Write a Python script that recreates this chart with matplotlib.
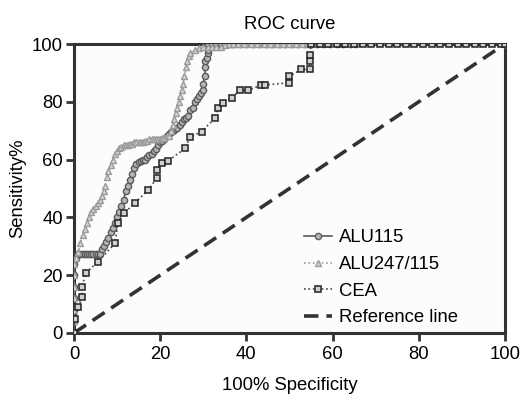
import matplotlib
matplotlib.use("Agg")
import matplotlib.pyplot as plt
import numpy as np

plt.rcParams['font.family'] = ['Liberation Sans', 'DejaVu Sans']

# ALU115 (100 - specificity, sensitivity)
alu115_x = [0, 0, 0, 0, 0, 0, 0, 0.5, 1, 1.5, 2, 2.5, 3, 3.5, 4, 4.5, 5, 5.5, 6, 6.5, 7, 7.5, 8, 8.5,
            9, 9.5, 10, 10.5, 11, 11.5, 12, 12.5, 13, 13.5, 14, 14.5, 15, 15.5, 16, 16.5, 17, 17.5,
            18, 18.5, 19, 19.5, 20, 20.5, 21, 21.5, 22, 22.5, 23, 23.5, 24, 24.5, 25, 25.5, 26, 26.5,
            27, 27.5, 28, 28.5, 29, 29.5, 30, 30, 30.3, 30.5, 30.5, 30.8, 31, 31, 31, 32, 33, 34,
            35, 36, 37, 38.5, 40, 41.5, 43, 44.5, 46, 47.5, 49, 50.5, 52, 53.5, 55, 56.5, 58, 59.5,
            61, 62.5, 64, 65.5, 100]
alu115_y = [0, 4, 8, 12, 16, 20, 24, 26, 27.5, 27.5, 27.5, 27.5, 27.5, 27.5, 27.5, 27.5, 27.5, 27.5,
            27.5, 29, 30, 31.5, 33, 35, 36.5, 38, 40, 42, 44, 46, 49, 51, 53, 55, 57, 58.5, 59, 59.5,
            60, 60, 61, 61.5, 62, 63, 63.5, 65, 66, 66.5, 67, 68, 69, 69.5, 70, 70.5, 71, 72, 73, 74,
            74.5, 75, 77, 78, 80, 81, 82, 83, 84, 86, 89, 92, 94, 95, 97, 98, 100, 100, 100, 100, 100,
            100, 100, 100, 100, 100, 100, 100, 100, 100, 100, 100, 100, 100, 100, 100, 100, 100, 100,
            100, 100, 100, 100]

# ALU247/115
alu247_x = [0, 0, 0, 0, 0, 0, 0, 0.5, 1, 1.5, 2, 2.5, 3, 3.5, 4, 4.5, 5, 5.5, 6, 6.5, 7, 7.3, 7.6,
            8, 8.5, 9, 9.5, 10, 10.5, 11, 11.5, 12, 12.5, 13, 13.5, 14, 14.5, 15, 15.5, 16, 16.5, 17,
            17.5, 18, 18.5, 19, 19.5, 20, 20.5, 21, 21.5, 22, 22.5, 23, 23.3, 23.6, 24, 24.3, 24.6,
            25, 25.3, 25.6, 26, 26.3, 26.6, 27, 28, 29, 30, 31, 32, 33, 34, 35, 36, 37, 38, 39.5, 41,
            42.5, 44, 45.5, 47, 48.5, 50, 51.5, 53, 54.5, 55, 100]
alu247_y = [0, 4, 8, 12, 16, 20, 24, 26, 28, 31, 34, 36, 38, 40, 42, 43, 44, 45, 46, 47.5, 49, 51,
            54, 56, 58, 60, 62, 63, 64, 64.5, 65, 65, 65, 65.5, 65.5, 66, 66, 66, 66, 66, 66.5, 66.5,
            67, 67, 67, 67, 67, 67, 67.5, 67.5, 68, 68, 70, 72, 74, 76, 78, 80, 82, 84, 86, 89, 92,
            94, 96, 97, 98, 98.5, 99, 99, 99, 99, 99, 99.5, 100, 100, 100, 100, 100, 100, 100, 100,
            100, 100, 100, 100, 100, 100, 100, 100]

# CEA
cea_x = [0, 0.2, 1, 1.9, 1.9, 2.7, 5.6, 9.5, 10.2, 11.7, 14.2, 17.2, 19.2, 19.2, 20.4, 21.9, 25.8,
         26.9, 29.6, 32.7, 33.5, 34.6, 36.6, 38.5, 40.4, 43.5, 44.3, 50, 50, 52.7, 54.8, 54.8, 54.8,
         55, 57, 59, 61, 63, 65, 67, 69, 71, 73, 75, 77, 79, 81, 83, 85, 87, 89, 91, 93, 95, 97, 99, 100]
cea_y = [0, 4.8, 9, 12.6, 16, 20.7, 24.7, 31, 38, 41.6, 45, 49.5, 53.5, 56.4, 58.8, 59.6, 63.9, 67.7,
         69.7, 74.3, 77.7, 79.7, 81.4, 84, 84, 85.8, 85.8, 86.6, 88.8, 91.2, 91.2, 94, 96.2, 100, 100,
         100, 100, 100, 100, 100, 100, 100, 100, 100, 100, 100, 100, 100, 100, 100, 100, 100, 100,
         100, 100, 100, 100]

ref_x = [0, 100]
ref_y = [0, 100]

ticks = [0, 20, 40, 60, 80, 100]

FS = 13.3

fig = plt.figure(figsize=(5.2, 3.95), dpi=100)
ax = fig.add_axes([0.1423, 0.157, 0.8287, 0.7316])
ax.set_facecolor('#fcfcfc')

ax.plot(alu115_x, alu115_y, '-', color='#5a5a5a', lw=1.2, marker='o', ms=4.5,
        mfc='#b5b5b5', mec='#5a5a5a', mew=1, label='ALU115', zorder=3)
ax.plot(alu247_x, alu247_y, ':', color='#999999', lw=1.2, marker='^', ms=5,
        mfc='#d5d5d5', mec='#9a9a9a', mew=1, label='ALU247/115', zorder=4)
ax.plot(cea_x, cea_y, ':', color='#444444', lw=1.2, marker='s', ms=5,
        mfc='#d0d0d0', mec='#222222', mew=1.1, label='CEA', zorder=5)
ax.plot(ref_x, ref_y, '--', color='#333333', lw=2.6, dashes=(4, 2.2), label='Reference line', zorder=2)

ax.set_xlim(0, 100)
ax.set_ylim(0, 100)
ax.set_xticks(ticks)
ax.set_yticks(ticks)
ax.tick_params(direction='out', length=6, width=2, color='#333333', labelsize=FS)
ax.tick_params(axis='x', pad=3.5)
ax.tick_params(axis='y', pad=2)
for s in ax.spines.values():
    s.set_linewidth(2.2)
    s.set_color('#333333')

ax.set_title('ROC curve', fontsize=FS, pad=11)
ax.set_xlabel('100% Specificity', fontsize=FS, labelpad=10)
ax.set_ylabel('Sensitivity%', fontsize=FS, labelpad=4)

leg = ax.legend(loc='lower right', bbox_to_anchor=(0.93, -0.034), frameon=False, fontsize=FS,
                handlelength=1.5, handletextpad=0.4, labelspacing=0.52)

fig.savefig('out.png', dpi=100)
